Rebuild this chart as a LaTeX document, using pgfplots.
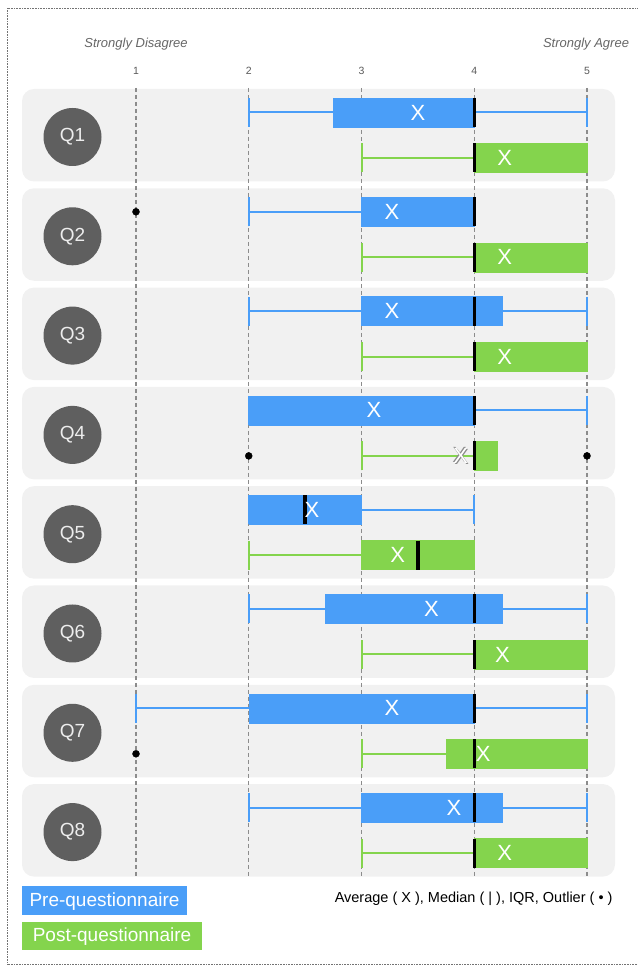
\documentclass[border=0pt]{standalone}
\usepackage{fontspec}
\setmainfont{Liberation Sans}
\usepackage{pgfplots}
\pgfplotsset{compat=1.18}
\usepgfplotslibrary{statistics}

\definecolor{preblue}{HTML}{4A9EF8}
\definecolor{postgreen}{HTML}{84D44D}
\definecolor{panel}{HTML}{F1F1F1}
\definecolor{qdisc}{HTML}{5F5F5F}
\definecolor{gridgray}{HTML}{8C8C8C}

\pgfplotsset{
  pre/.style={draw=preblue, fill=preblue, line width=0.5pt},
  post/.style={draw=postgreen, fill=postgreen, line width=0.5pt},
  xmark/.style={only marks, mark=*, mark size=0pt, mark options={draw=none, fill=none},
    nodes near coords={X},
    every node near coord/.append style={anchor=center, inner sep=0pt, font=\fontsize{22}{22}\selectfont}},
}

\begin{document}
\begin{tikzpicture}
\useasboundingbox (0,0) rectangle (637pt,966pt);
\begin{scope}[x=1pt,y=1pt]
  % outer dotted frame
  \draw[black!55, densely dotted, line width=0.6pt] (637,1.5) -- (7,1.5) -- (7,958) -- (637,958);
  % one grey panel and disc per question
  \foreach \i in {1,...,8}{
    \pgfmathsetmacro{\ptop}{966-89-99.3*(\i-1)}
    \fill[panel, rounded corners=12pt] (22,\ptop) rectangle (615,\ptop-92.5);
    \fill[qdisc] (72.5,\ptop-48) circle (29pt);
    \node[text=black!7, font=\fontsize{19}{19}\selectfont] at (72.5,\ptop-48) {Q\i};
  }
  % dashed guides and scale numbers
  \foreach \k in {1,...,5}{
    \pgfmathsetmacro{\gx}{136+112.75*(\k-1)}
    \draw[gridgray, dash pattern=on 4pt off 3pt, line width=1.3pt] (\gx,878) -- (\gx,88);
    \node[text=black!65, font=\fontsize{10.5}{10.5}\selectfont] at (\gx,895) {\k};
  }
  \node[text=black!60, font=\itshape\fontsize{13}{13}\selectfont] at (136,922) {Strongly Disagree};
  \node[text=black!60, font=\itshape\fontsize{13}{13}\selectfont] at (586,922) {Strongly Agree};
  % legend
  \fill[preblue] (22,51) rectangle (187,80);
  \node[text=white, font=\fontsize{19}{19}\selectfont] at (104.5,64.5) {Pre-questionnaire};
  \fill[postgreen] (22,16) rectangle (202,44);
  \node[text=white, font=\fontsize{19}{19}\selectfont] at (112,29) {Post-questionnaire};
  \node[anchor=east, font=\fontsize{14.5}{14.5}\selectfont] at (616,67) {Average ( X ), Median ( | ), IQR, Outlier ( • )};
\end{scope}

\begin{axis}[
  at={(0,0)}, anchor=south west,
  scale only axis, width=637pt, height=966pt,
  xmin=-0.20621, xmax=5.44346, ymin=0, ymax=966,
  hide axis, clip=false,
  boxplot/box extend=29,
  boxplot/whisker extend=29,
  boxplot/every whisker/.style={line width=2pt},
]
  % Q1
  \addplot[pre, boxplot prepared={lower whisker=2, lower quartile=2.75, median=4, upper quartile=4, upper whisker=5, draw position=853.5}] coordinates {};
  \addplot[post, boxplot prepared={lower whisker=3, lower quartile=4, median=4, upper quartile=5, upper whisker=5, draw position=808}] coordinates {};
  % Q2
  \addplot[pre, boxplot prepared={lower whisker=2, lower quartile=3, median=4, upper quartile=4, upper whisker=4, draw position=754.2}] coordinates {};
  \addplot[post, boxplot prepared={lower whisker=3, lower quartile=4, median=4, upper quartile=5, upper whisker=5, draw position=708.7}] coordinates {};
  % Q3
  \addplot[pre, boxplot prepared={lower whisker=2, lower quartile=3, median=4, upper quartile=4.25, upper whisker=5, draw position=654.9}] coordinates {};
  \addplot[post, boxplot prepared={lower whisker=3, lower quartile=4, median=4, upper quartile=5, upper whisker=5, draw position=609.4}] coordinates {};
  % Q4
  \addplot[pre, boxplot prepared={lower whisker=2, lower quartile=2, median=4, upper quartile=4, upper whisker=5, draw position=555.6}] coordinates {};
  \addplot[post, boxplot prepared={lower whisker=3, lower quartile=4, median=4, upper quartile=4.2, upper whisker=4.2, draw position=510.1}] coordinates {};
  % Q5
  \addplot[pre, boxplot prepared={lower whisker=2, lower quartile=2, median=2.5, upper quartile=3, upper whisker=4, draw position=456.3}] coordinates {};
  \addplot[post, boxplot prepared={lower whisker=2, lower quartile=3, median=3.5, upper quartile=4, upper whisker=4, draw position=410.8}] coordinates {};
  % Q6
  \addplot[pre, boxplot prepared={lower whisker=2, lower quartile=2.68, median=4, upper quartile=4.25, upper whisker=5, draw position=357}] coordinates {};
  \addplot[post, boxplot prepared={lower whisker=3, lower quartile=4, median=4, upper quartile=5, upper whisker=5, draw position=311.5}] coordinates {};
  % Q7
  \addplot[pre, boxplot prepared={lower whisker=1, lower quartile=2, median=4, upper quartile=4, upper whisker=5, draw position=257.7}] coordinates {};
  \addplot[post, boxplot prepared={lower whisker=3, lower quartile=3.75, median=4, upper quartile=5, upper whisker=5, draw position=212.2}] coordinates {};
  % Q8
  \addplot[pre, boxplot prepared={lower whisker=2, lower quartile=3, median=4, upper quartile=4.25, upper whisker=5, draw position=158.4}] coordinates {};
  \addplot[post, boxplot prepared={lower whisker=3, lower quartile=4, median=4, upper quartile=5, upper whisker=5, draw position=112.9}] coordinates {};

  % medians
  \addplot[only marks, mark=|, mark size=14.5pt, mark options={black, line width=3.5pt}] coordinates {
    (4,853.5) (4,808) (4,754.2) (4,708.7) (4,654.9) (4,609.4) (4,555.6) (4,510.1)
    (2.5,456.3) (3.5,410.8) (4,357) (4,311.5) (4,257.7) (4,212.2) (4,158.4) (4,112.9)};

  % shadow behind the Q4 post average, which sits on the grey panel
  \addplot[xmark, every node near coord/.append style={text=black!45, xshift=0.9pt, yshift=-0.9pt}] coordinates {(3.88,510.1)};
  \addplot[xmark, every node near coord/.append style={text=black!45, xshift=-0.9pt, yshift=0.9pt}] coordinates {(3.88,510.1)};

  % averages
  \addplot[xmark, every node near coord/.append style={text=white}] coordinates {
    (3.5,853.5) (4.27,808) (3.27,754.2) (4.27,708.7) (3.27,654.9) (4.27,609.4) (3.11,555.6) (3.88,510.1)
    (2.56,456.3) (3.32,410.8) (3.62,357) (4.25,311.5) (3.27,257.7) (4.08,212.2) (3.82,158.4) (4.27,112.9)};

  % outliers
  \addplot[only marks, mark=*, mark size=3.5pt, black] coordinates {
    (1,754.2) (2,510.1) (5,510.1) (1,212.2)};
\end{axis}
\end{tikzpicture}
\end{document}
